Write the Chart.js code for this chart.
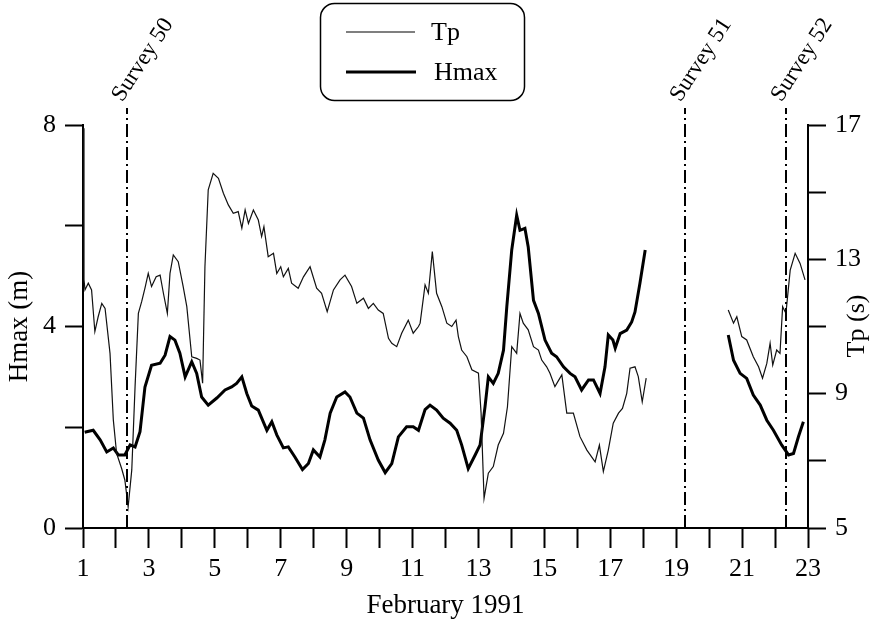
<!DOCTYPE html>
<html>
<head>
<meta charset="utf-8">
<script src="https://cdn.jsdelivr.net/npm/chart.js@4.4.1/dist/chart.umd.min.js"></script>
<style>
  html, body { margin: 0; padding: 0; background: #fff; }
  #wrap { width: 876px; height: 624px; position: relative; }
</style>
</head>
<body>
<div id="wrap"><canvas id="chart"></canvas></div>
<script>
// February 1991, day of month
const hmaxDays = [
  1.05, 1.11, 1.31, 1.52, 1.72, 1.92, 2.07, 2.27, 2.43, 2.58,
  2.73, 2.88, 3.08, 3.34, 3.49, 3.64, 3.79, 3.94, 4.10, 4.30,
  4.45, 4.60, 4.80, 5.06, 5.31, 5.51, 5.66, 5.82, 5.97, 6.12,
  6.32, 6.58, 6.73, 6.88, 7.08, 7.23, 7.43, 7.66, 7.84, 7.99,
  8.19, 8.34, 8.50, 8.70, 8.95, 9.10, 9.31, 9.51, 9.71, 9.96,
  10.17, 10.37, 10.57, 10.82, 11.02, 11.18, 11.38, 11.53, 11.73, 11.93,
  12.14, 12.34, 12.49, 12.69, 12.90, 13.05, 13.20, 13.30, 13.45, 13.60,
  13.76, 13.86, 14.01, 14.16, 14.26, 14.41, 14.51, 14.67, 14.82, 15.02,
  15.22, 15.37, 15.58, 15.78, 15.93, 16.13, 16.34, 16.49, 16.69, 16.84,
  16.94, 17.08, 17.15, 17.30, 17.50, 17.65, 17.75, 17.90, 18.06, 19.30,
  20.58, 20.74, 20.94, 21.14, 21.34, 21.55, 21.75, 21.95, 22.20, 22.41,
  22.56, 22.71, 22.86
];
// Hmax (m), null = no data
const hmaxValues = [
  1.90, 1.91, 1.94, 1.75, 1.51, 1.59, 1.45, 1.45, 1.65, 1.61,
  1.91, 2.80, 3.23, 3.27, 3.43, 3.80, 3.73, 3.47, 3.00, 3.30,
  3.07, 2.60, 2.44, 2.58, 2.74, 2.80, 2.87, 3.00, 2.67, 2.42,
  2.34, 1.94, 2.11, 1.85, 1.59, 1.61, 1.41, 1.16, 1.28, 1.55,
  1.41, 1.75, 2.28, 2.60, 2.70, 2.60, 2.28, 2.18, 1.75, 1.35,
  1.10, 1.28, 1.81, 2.01, 2.01, 1.94, 2.35, 2.44, 2.34, 2.18,
  2.08, 1.94, 1.65, 1.18, 1.45, 1.65, 2.41, 3.00, 2.87, 3.07,
  3.53, 4.39, 5.52, 6.21, 5.91, 5.95, 5.58, 4.52, 4.26, 3.73,
  3.47, 3.40, 3.20, 3.07, 3.00, 2.74, 2.94, 2.94, 2.67, 3.20,
  3.83, 3.73, 3.57, 3.86, 3.93, 4.09, 4.29, 4.86, 5.52, null,
  3.83, 3.33, 3.07, 2.97, 2.64, 2.44, 2.14, 1.94, 1.65, 1.45,
  1.48, 1.81, 2.11
];

const tpDays = [
  1.00, 1.03, 1.06, 1.16, 1.26, 1.36, 1.46, 1.57, 1.67, 1.82,
  1.92, 2.02, 2.17, 2.27, 2.37, 2.48, 2.58, 2.68, 2.78, 2.88,
  2.98, 3.08, 3.22, 3.34, 3.44, 3.56, 3.64, 3.74, 3.89, 4.04,
  4.15, 4.30, 4.45, 4.55, 4.63, 4.70, 4.80, 4.95, 5.11, 5.26,
  5.41, 5.56, 5.71, 5.82, 5.92, 6.02, 6.17, 6.32, 6.42, 6.49,
  6.62, 6.78, 6.88, 7.00, 7.08, 7.23, 7.33, 7.53, 7.69, 7.89,
  8.09, 8.24, 8.41, 8.60, 8.80, 8.95, 9.15, 9.31, 9.51, 9.66,
  9.81, 9.96, 10.11, 10.27, 10.37, 10.52, 10.67, 10.87, 11.02, 11.18,
  11.23, 11.38, 11.48, 11.60, 11.73, 11.89, 12.04, 12.19, 12.32, 12.39,
  12.49, 12.65, 12.80, 13.00, 13.08, 13.17, 13.30, 13.45, 13.60, 13.76,
  13.88, 14.01, 14.16, 14.26, 14.36, 14.51, 14.67, 14.82, 14.92, 15.07,
  15.17, 15.32, 15.53, 15.68, 15.88, 16.08, 16.29, 16.54, 16.67, 16.79,
  16.94, 17.09, 17.25, 17.37, 17.50, 17.60, 17.75, 17.85, 17.97, 18.09,
  19.30, 20.58, 20.74, 20.84, 20.99, 21.14, 21.34, 21.50, 21.62, 21.75,
  21.85, 21.93, 22.05, 22.15, 22.23, 22.33, 22.46, 22.61, 22.76, 22.91
];
// Tp (s), null = no data
const tpValues = [
  16.9, 12.4, 12.09, 12.29, 12.09, 10.85, 11.29, 11.69, 11.54, 10.20,
  8.22, 7.22, 6.78, 6.43, 5.63, 6.73, 9.21, 11.39, 11.74, 12.14,
  12.58, 12.19, 12.48, 12.53, 11.99, 11.39, 12.58, 13.13, 12.93, 12.19,
  11.59, 10.10, 10.05, 10.00, 9.31, 12.78, 15.07, 15.56, 15.41, 14.97,
  14.62, 14.37, 14.42, 13.93, 14.47, 14.07, 14.47, 14.17, 13.68, 13.97,
  13.08, 13.18, 12.58, 12.78, 12.48, 12.73, 12.29, 12.14, 12.48, 12.78,
  12.14, 11.99, 11.44, 12.09, 12.39, 12.53, 12.19, 11.69, 11.84, 11.54,
  11.69, 11.49, 11.39, 10.65, 10.50, 10.40, 10.80, 11.19, 10.80, 11.00,
  11.10, 12.24, 11.99, 13.23, 11.99, 11.59, 11.10, 11.00, 11.19, 10.70,
  10.30, 10.10, 9.71, 9.61, 8.42, 5.88, 6.63, 6.83, 7.47, 7.82,
  8.61, 10.40, 10.20, 11.39, 11.10, 10.90, 10.40, 10.30, 10.00, 9.80,
  9.61, 9.21, 9.56, 8.42, 8.42, 7.72, 7.32, 6.97, 7.47, 6.68,
  7.32, 8.12, 8.42, 8.56, 9.01, 9.76, 9.80, 9.51, 8.76, 9.46,
  null, 11.49, 11.10, 11.29, 10.70, 10.60, 10.10, 9.80, 9.46, 9.90,
  10.50, 9.85, 10.30, 10.20, 11.59, 11.39, 12.68, 13.18, 12.88, 12.39
];

const surveyNames = ["Survey 50", "Survey 51", "Survey 52"];
const surveyDays = [2.33, 19.27, 22.33];

const hmaxTicks = [0, 4, 8];
const tpTicks = [5, 9, 13, 17];

const SERIF = "'Liberation Serif', 'DejaVu Serif', serif";

function toPoints(days, vals) {
    return days.map((d, i) => ({ x: d, y: vals[i] }));
}

// dash-dot survey markers with slanted labels
const surveyPlugin = {
    id: "surveys",
    afterDatasetsDraw(chart) {
        const ctx = chart.ctx;
        const xs = chart.scales.x;
        const bottom = chart.chartArea.bottom;
        ctx.save();
        ctx.strokeStyle = "#000";
        ctx.lineWidth = 2;
        ctx.setLineDash([13, 4, 2, 4]);
        surveyDays.forEach((d) => {
            const px = Math.round(xs.getPixelForValue(d));
            ctx.beginPath();
            ctx.moveTo(px, bottom);
            ctx.lineTo(px, chart.chartArea.top - 17);
            ctx.stroke();
        });
        ctx.setLineDash([]);
        ctx.fillStyle = "#000";
        ctx.font = "23px " + SERIF;
        ctx.textAlign = "center";
        ctx.textBaseline = "middle";
        surveyDays.forEach((d, i) => {
            const px = xs.getPixelForValue(d);
            ctx.save();
            ctx.translate(px + 16, 60);
            ctx.rotate(-57 * Math.PI / 180);
            ctx.fillText(surveyNames[i], 0, 0);
            ctx.restore();
        });
        ctx.restore();
    }
};

// legend box and right axis title
const extrasPlugin = {
    id: "extras",
    afterDraw(chart) {
        const ctx = chart.ctx;
        ctx.save();
        ctx.strokeStyle = "#000";
        ctx.lineWidth = 1.5;
        ctx.beginPath();
        ctx.roundRect(320.5, 3.5, 204, 97, 14);
        ctx.stroke();

        const ds = chart.data.datasets;
        ctx.lineWidth = ds[0].borderWidth;
        ctx.beginPath();
        ctx.moveTo(346, 32);
        ctx.lineTo(415, 32);
        ctx.stroke();
        ctx.lineWidth = ds[1].borderWidth;
        ctx.beginPath();
        ctx.moveTo(346, 72);
        ctx.lineTo(416, 72);
        ctx.stroke();

        ctx.fillStyle = "#000";
        ctx.font = "26px " + SERIF;
        ctx.textAlign = "left";
        ctx.textBaseline = "middle";
        ctx.fillText(ds[0].label, 431, 33);
        ctx.fillText(ds[1].label, 434, 73);

        ctx.translate(857, 326);
        ctx.rotate(-Math.PI / 2);
        ctx.textAlign = "center";
        ctx.fillText("Tp (s)", 0, 0);
        ctx.restore();
    }
};

const axisBase = {
    grid: { drawOnChartArea: false, drawTicks: true, tickLength: 18, color: "#000", tickWidth: 2 },
    border: { display: true, color: "#000", width: 2 },
    ticks: { color: "#000", font: { family: SERIF, size: 26 }, padding: 9 }
};

new Chart(document.getElementById("chart"), {
    type: "line",
    data: {
        datasets: [{
            label: "Tp",
            data: toPoints(tpDays, tpValues),
            yAxisID: "yR",
            borderColor: "#111",
            borderWidth: 1.2,
            pointRadius: 0,
            tension: 0,
            spanGaps: false
        }, {
            label: "Hmax",
            data: toPoints(hmaxDays, hmaxValues),
            yAxisID: "yL",
            borderColor: "#000",
            borderWidth: 3,
            pointRadius: 0,
            tension: 0,
            spanGaps: false
        }]
    },
    options: {
        responsive: true,
        maintainAspectRatio: false,
        animation: false,
        layout: { padding: { top: 125, left: 0, right: 0, bottom: 0 } },
        plugins: { legend: { display: false }, tooltip: { enabled: false } },
        scales: {
            x: {
                type: "linear",
                min: 1,
                max: 23,
                grid: { ...axisBase.grid, tickLength: 20 },
                border: axisBase.border,
                ticks: {
                    ...axisBase.ticks,
                    stepSize: 1,
                    autoSkip: false,
                    maxRotation: 0,
                    padding: 6,
                    callback: v => (v % 2 === 1 ? String(v) : "")
                },
                title: {
                    display: true,
                    text: "February 1991",
                    color: "#000",
                    font: { family: SERIF, size: 27 },
                    padding: { top: 4, bottom: 2 }
                },
                afterFit: s => { s.height = 96; }
            },
            yL: {
                position: "left",
                min: 0,
                max: 8,
                grid: axisBase.grid,
                border: axisBase.border,
                ticks: {
                    ...axisBase.ticks,
                    stepSize: 2,
                    callback: v => (hmaxTicks.includes(v) ? String(v) : "")
                },
                title: {
                    display: true,
                    text: "Hmax (m)",
                    color: "#000",
                    font: { family: SERIF, size: 27 },
                    padding: { top: 4, bottom: 0 }
                },
                afterFit: s => { s.width = 83; }
            },
            yR: {
                position: "right",
                min: 5,
                max: 17,
                grid: axisBase.grid,
                border: axisBase.border,
                ticks: {
                    ...axisBase.ticks,
                    stepSize: 2,
                    callback: v => (tpTicks.includes(v) ? String(v) : "")
                },
                afterFit: s => { s.width = 68; }
            }
        }
    },
    plugins: [surveyPlugin, extrasPlugin]
});
</script>
</body>
</html>
